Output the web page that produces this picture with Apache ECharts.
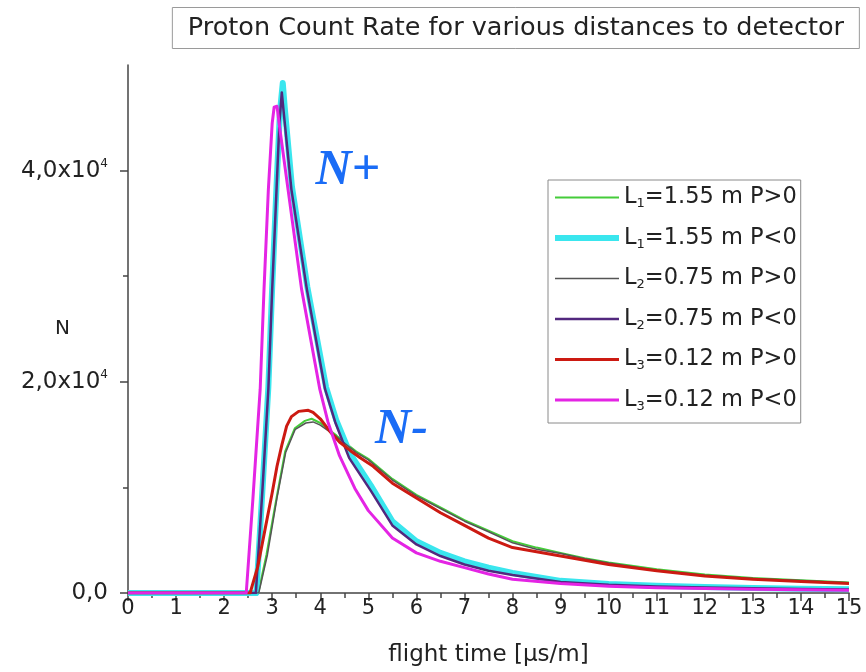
<!DOCTYPE html>
<html>
<head>
<meta charset="utf-8">
<script src="https://cdn.jsdelivr.net/npm/echarts@6/dist/echarts.min.js"></script>
<style>
  html, body { margin: 0; padding: 0; background: #fff; }
  #chart { width: 866px; height: 672px; }
</style>
</head>
<body>
<div id="chart"></div>
<script>
// readings taken off the plot: [flight time (us/m), N]
const l1Pos = [[0,0],[2.71,0],[2.88,3600],[3.09,9000],[3.27,13400],[3.47,15600],[3.68,16300],[3.82,16500],[4.0,16100],[4.17,15500],[4.34,14900],[4.55,14100],[4.75,13400],[5.0,12700],[5.5,10800],[6.0,9300],[6.5,8100],[7.0,6900],[7.5,5900],[8.0,4900],[8.5,4300],[9.0,3800],[9.5,3300],[10,2900],[11,2250],[12,1750],[13,1420],[14,1200],[15,1000]];
const l1Neg = [[0,0],[2.67,0],[2.8,10000],[2.92,19500],[3.0,29000],[3.09,38500],[3.16,45500],[3.22,48300],[3.26,46000],[3.41,38500],[3.73,29000],[4.12,19500],[4.33,16400],[4.62,13200],[5.05,10200],[5.5,6800],[6.0,4900],[6.5,3800],[7.0,3000],[7.5,2400],[8.0,1900],[9,1150],[10,850],[11,680],[12,560],[13,470],[14,410],[15,360]];
const l2Pos = [[0,0],[2.72,0],[2.9,3600],[3.1,9000],[3.28,13300],[3.48,15500],[3.7,16100],[3.85,16200],[4.0,15900],[4.34,14800],[4.75,13300],[5.0,12600],[5.5,10700],[6.0,9200],[6.5,8000],[7.0,6800],[7.5,5800],[8.0,4750],[8.5,4150],[9.0,3750],[9.5,3250],[10,2850],[11,2150],[12,1680],[13,1380],[14,1180],[15,980]];
const l2Neg = [[0,0],[2.66,0],[2.8,10000],[2.92,19300],[3.0,28800],[3.09,38200],[3.15,44500],[3.2,47400],[3.24,45500],[3.4,38200],[3.72,28800],[4.1,19300],[4.31,16200],[4.6,12800],[5.05,9700],[5.5,6400],[6.0,4600],[6.5,3500],[7.0,2700],[7.5,2100],[8.0,1700],[9,1050],[10,780],[11,620],[12,520],[13,440],[14,380],[15,340]];
const l3Pos = [[0,0],[2.54,0],[2.7,2500],[2.85,6000],[3.0,9500],[3.1,12000],[3.2,14000],[3.3,15800],[3.4,16700],[3.55,17200],[3.75,17300],[3.85,17100],[4.0,16500],[4.2,15300],[4.4,14300],[4.62,13500],[4.83,12800],[5.1,12000],[5.5,10400],[6.0,9000],[6.5,7600],[7.0,6400],[7.5,5200],[8.0,4300],[8.5,3900],[9,3500],[10,2700],[11,2100],[12,1600],[13,1300],[14,1100],[15,900]];
const l3Neg = [[0,0],[2.46,0],[2.6,9000],[2.75,19300],[2.83,28800],[2.92,38200],[3.0,44500],[3.04,46000],[3.1,46100],[3.14,44600],[3.33,38200],[3.61,28800],[3.99,19300],[4.16,16200],[4.4,13000],[4.72,9900],[5.0,7800],[5.5,5200],[6.0,3800],[6.5,3000],[7.0,2400],[7.5,1800],[8.0,1300],[9,900],[10,650],[11,500],[12,420],[13,350],[14,300],[15,270]];

const seriesNames = ["L1=1.55 m P>0", "L1=1.55 m P<0", "L2=0.75 m P>0", "L2=0.75 m P<0", "L3=0.12 m P>0", "L3=0.12 m P<0"];
const seriesData = [l1Pos, l1Neg, l2Pos, l2Neg, l3Pos, l3Neg];
const seriesColors = ["#45cc3a", "#3ae6ee", "#555555", "#52287e", "#cc1a12", "#e424e4"];
const seriesWidths = [2, 6, 1.5, 2.5, 3, 3];

const yMajor = [0, 20000, 40000];
const yMinor = [10000, 30000];

const chart = echarts.init(document.getElementById("chart"));
const font = "DejaVu Sans";
const tickStyle = { color: "#444", width: 1.5 };

chart.setOption({
  animation: false,
  backgroundColor: "#fff",
  title: {
    text: "Proton Count Rate for various distances to detector",
    right: 6,
    top: 7,
    padding: [8, 16, 8, 16],
    borderColor: "#9a9a9a",
    borderWidth: 1,
    textStyle: { fontFamily: font, fontSize: 25.5, fontWeight: "normal", color: "#222" }
  },
  grid: { left: 128, right: 17, top: 65, bottom: 77 },
  legend: {
    orient: "vertical",
    left: 548,
    top: 180,
    padding: [6, 4, 10, 4],
    borderColor: "#8a8a8a",
    borderWidth: 1,
    itemWidth: 64,
    itemHeight: 14,
    itemGap: 16,
    itemStyle: { color: "rgba(0,0,0,0)", borderWidth: 0, opacity: 0 },
    data: seriesNames.map(function(name, i) {
      return { name: name, lineStyle: { color: seriesColors[i], width: seriesWidths[i] } };
    }),
    formatter: function(name) {
      // L1 -> L with subscript 1
      return "{n|L}{s|" + name.charAt(1) + "}{n|" + name.slice(2) + "}";
    },
    textStyle: {
      color: "#222",
      rich: {
        n: { fontFamily: font, fontSize: 22.5, lineHeight: 26, color: "#222" },
        s: { fontFamily: font, fontSize: 13, lineHeight: 12, verticalAlign: "bottom", color: "#222" }
      }
    }
  },
  xAxis: {
    type: "value",
    min: 0,
    max: 15,
    interval: 1,
    name: "flight time [\u03bcs/m]",
    nameLocation: "middle",
    nameGap: 51,
    nameMoveOverlap: false,
    nameTextStyle: { fontFamily: font, fontSize: 23, color: "#222" },
    axisLine: { lineStyle: tickStyle },
    axisTick: { show: true, length: 8, lineStyle: tickStyle },
    minorTick: { show: true, splitNumber: 2, length: 5, lineStyle: tickStyle },
    axisLabel: { margin: 5, fontFamily: font, fontSize: 21, color: "#222" },
    splitLine: { show: false }
  },
  yAxis: [
    {
      type: "value",
      min: 0,
      max: 50000,
      interval: 10000,
      name: "N",
      nameLocation: "middle",
      nameRotate: 0,
      nameGap: 58,
      nameMoveOverlap: false,
      nameTextStyle: { fontFamily: font, fontSize: 20, color: "#222" },
      axisLine: { show: true, lineStyle: tickStyle },
      axisTick: { show: true, length: 8, customValues: yMajor, lineStyle: tickStyle },
      axisLabel: {
        margin: 20,
        customValues: yMajor,
        formatter: function(v) {
          if (v === 0) return "{n|0,0}";
          return "{n|" + (v / 10000).toFixed(1).replace(".", ",") + "x10}{p|4}";
        },
        rich: {
          n: { fontFamily: font, fontSize: 23, lineHeight: 26, color: "#222" },
          p: { fontFamily: font, fontSize: 12, lineHeight: 12, verticalAlign: "top", color: "#222" }
        }
      },
      splitLine: { show: false }
    },
    {
      type: "value",
      min: 0,
      max: 50000,
      position: "left",
      axisLine: { show: false },
      axisTick: { show: true, length: 5, customValues: yMinor, lineStyle: tickStyle },
      axisLabel: { show: false },
      splitLine: { show: false }
    }
  ],
  series: seriesNames.map(function(name, i) {
    return {
      name: name,
      type: "line",
      data: seriesData[i],
      showSymbol: false,
      symbol: "none",
      smooth: false,
      color: seriesColors[i],
      lineStyle: { color: seriesColors[i], width: seriesWidths[i], join: "round" },
      z: 2 + i
    };
  })
});

// N+ / N- tags, placed in data space
const tagPlus = chart.convertToPixel({ gridIndex: 0 }, [3.9, 42300]);
const tagMinus = chart.convertToPixel({ gridIndex: 0 }, [5.14, 17800]);
chart.setOption({
  graphic: [
    {
      type: "text", x: tagPlus[0], y: tagPlus[1], z: 20,
      style: { text: "N+", fill: "#1a6cf6", font: "italic bold 50px 'Liberation Serif'" }
    },
    {
      type: "text", x: tagMinus[0], y: tagMinus[1], z: 20,
      style: { text: "N-", fill: "#1a6cf6", font: "italic bold 50px 'Liberation Serif'" }
    }
  ]
});
</script>
</body>
</html>
